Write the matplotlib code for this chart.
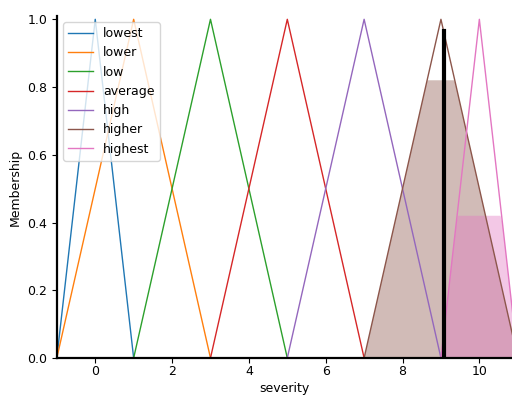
import numpy as np
import matplotlib
matplotlib.use("Agg")
import matplotlib.pyplot as plt

universe = np.arange(-1, 11.01, 0.05)

term_names = ["lowest", "lower", "low", "average", "high", "higher", "highest"]
term_abc = [
    [-1, 0, 1],
    [-1, 1, 3],
    [1, 3, 5],
    [3, 5, 7],
    [5, 7, 9],
    [7, 9, 11],
    [9, 10, 11],
]

# activation levels of the clipped output terms
active_terms = ["higher", "highest"]
active_levels = [0.82, 0.42]

crisp_value = 9.09
crisp_height = 0.965


def trimf(x, abc):
    a, b, c = abc
    y = np.zeros_like(x)
    if b > a:
        m = (x > a) & (x <= b)
        y[m] = (x[m] - a) / (b - a)
    if c > b:
        m = (x > b) & (x < c)
        y[m] = (c - x[m]) / (c - b)
    y[x == b] = 1.0
    return y


plt.rcParams["font.size"] = 9

fig = plt.figure(figsize=(5.12, 3.98), dpi=100)
ax = fig.add_axes([0.111, 0.1005, 0.889, 0.8595])

colors = {}
for i, (name, abc) in enumerate(zip(term_names, term_abc)):
    line, = ax.plot(universe, trimf(universe, abc), lw=1, label=name, color=f"C{i}")
    colors[name] = line.get_color()

for name, level in zip(active_terms, active_levels):
    mf = trimf(universe, term_abc[term_names.index(name)])
    ax.fill_between(universe, 0, np.fmin(mf, level), facecolor=colors[name], alpha=0.4)

ax.plot([crisp_value, crisp_value], [0, crisp_height], "k", lw=3)

ax.set_xlim(-1, 10.85)
ax.set_ylim(0, 1.01)
ax.set_yticks([0.0, 0.2, 0.4, 0.6, 0.8, 1.0])
ax.set_xticks([0, 2, 4, 6, 8, 10])
ax.tick_params(axis="x", pad=1.5)
ax.set_xlabel("severity", labelpad=3)
ax.set_ylabel("Membership")
ax.spines["top"].set_visible(False)
ax.spines["right"].set_visible(False)
ax.spines["left"].set_linewidth(1.6)
ax.spines["bottom"].set_linewidth(1.6)
ax.legend(loc="upper left", framealpha=0.8)

fig.savefig("out.png", dpi=100)
